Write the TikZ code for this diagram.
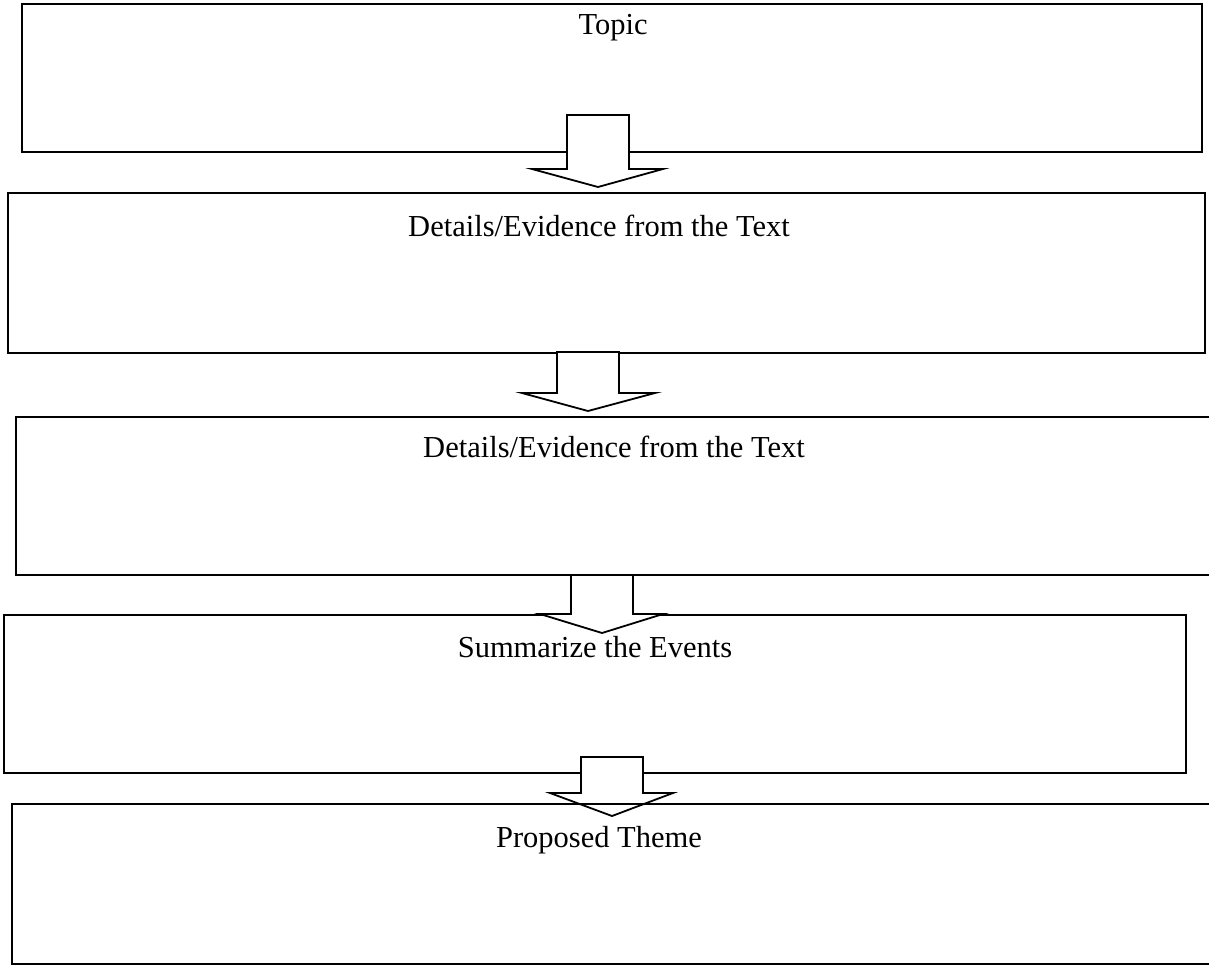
\documentclass[tikz,border=0pt]{standalone}
\usepackage{fontspec}
\setmainfont{Liberation Serif}
\begin{document}
\begin{tikzpicture}[x=1pt,y=-1pt,
  box/.style={draw=black,line width=2pt,fill=white},
  blockarrow/.style={draw=black,line width=1.8pt,fill=white,line join=miter},
  lbl/.style={font=\fontsize{30.5}{36}\selectfont,anchor=base,inner sep=0pt}]
\useasboundingbox (0,0) rectangle (1209,972);
\path[box] (22,4) rectangle (1202,152) coordinate (b1);
\node[lbl] (t1) at (613,34) {Topic};
\path[box] (8,193) rectangle (1205,353) coordinate (b2);
\node[lbl] (t2) at (599,236) {Details/Evidence from the Text};
\path[box] (16,417) rectangle (1215,575) coordinate (b3);
\node[lbl] (t3) at (614,457) {Details/Evidence from the Text};
\path[box] (4,615) rectangle (1186,773) coordinate (b4);
\node[lbl] (t4) at (595,657) {Summarize the Events};
% arrows
\draw[blockarrow] (567,115) -- (629,115) -- (629,169) -- (663,169) -- (598,187) -- (532,169) -- (567,169) -- cycle;
\draw[blockarrow] (557,352) -- (619,352) -- (619,393) -- (655,393) -- (588,411) -- (522,393) -- (557,393) -- cycle;
\draw[blockarrow] (571,575) -- (633,575) -- (633,614) -- (663,614) -- (602,633) -- (540,614) -- (571,614) -- cycle;
\draw[blockarrow] (581,757) -- (643,757) -- (643,793) -- (673,793) -- (612,816) -- (550,793) -- (581,793) -- cycle;
\draw[line width=2pt] (12,804) rectangle (1215,964) coordinate (b5);
\node[lbl] (t5) at (599,847) {Proposed Theme};
\end{tikzpicture}
\end{document}
